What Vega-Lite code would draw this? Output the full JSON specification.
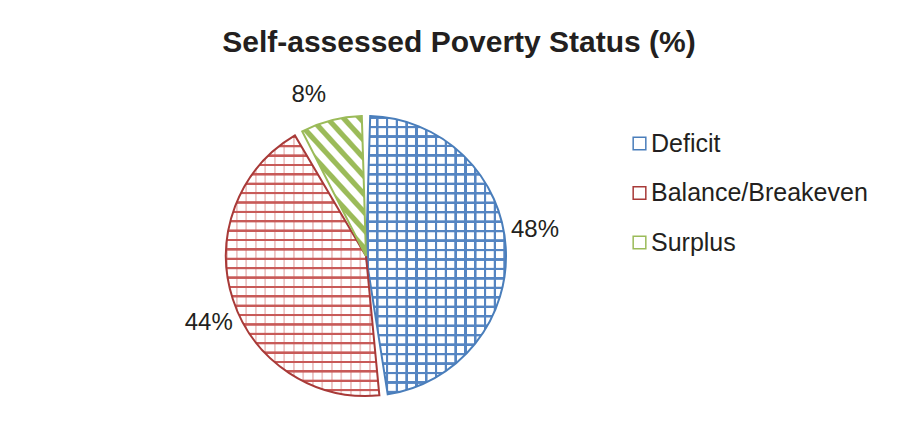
{
  "$schema": "https://vega.github.io/schema/vega-lite/v6.json",
  "width": 732,
  "height": 512,
  "autosize": {"type": "none"},
  "padding": {"left": 0, "top": 0, "right": 168, "bottom": 0},
  "background": "white",
  "title": {
    "text": "Self-assessed Poverty Status (%)",
    "font": "Liberation Sans",
    "fontSize": 30,
    "fontWeight": "bold",
    "color": "#231f20",
    "anchor": "middle",
    "frame": "group",
    "dx": 93,
    "offset": -58
  },
  "data": {
    "values": [
      {"status": "Deficit", "pct": 48, "label": "48%", "order": 1},
      {"status": "Balance/Breakeven", "pct": 44, "label": "44%", "order": 2},
      {"status": "Surplus", "pct": 8, "label": "8%", "order": 3}
    ]
  },
  "encoding": {
    "theta": {"field": "pct", "type": "quantitative", "stack": true},
    "order": {"field": "order", "type": "quantitative"}
  },
  "layer": [
    {
      "mark": {"type": "arc", "radius": 140, "padAngle": 0.06, "strokeWidth": 0},
      "encoding": {
        "fill": {
          "condition": [
            {
              "test": "datum.status === 'Deficit'",
              "value": {
                "gradient": "linear", "x1": 0, "y1": 0, "x2": 0, "y2": 1,
                "stops": [
                  {"offset": 0, "color": "#ffffff"}, {"offset": 0.002, "color": "#5585c2"}, {"offset": 0.009, "color": "#5585c2"}, {"offset": 0.011, "color": "#ffffff"},
                  {"offset": 0.034, "color": "#ffffff"}, {"offset": 0.036, "color": "#5585c2"}, {"offset": 0.043, "color": "#5585c2"}, {"offset": 0.045, "color": "#ffffff"},
                  {"offset": 0.068, "color": "#ffffff"}, {"offset": 0.070, "color": "#5585c2"}, {"offset": 0.077, "color": "#5585c2"}, {"offset": 0.079, "color": "#ffffff"},
                  {"offset": 0.102, "color": "#ffffff"}, {"offset": 0.104, "color": "#5585c2"}, {"offset": 0.111, "color": "#5585c2"}, {"offset": 0.113, "color": "#ffffff"},
                  {"offset": 0.136, "color": "#ffffff"}, {"offset": 0.138, "color": "#5585c2"}, {"offset": 0.145, "color": "#5585c2"}, {"offset": 0.147, "color": "#ffffff"},
                  {"offset": 0.170, "color": "#ffffff"}, {"offset": 0.172, "color": "#5585c2"}, {"offset": 0.179, "color": "#5585c2"}, {"offset": 0.181, "color": "#ffffff"},
                  {"offset": 0.204, "color": "#ffffff"}, {"offset": 0.206, "color": "#5585c2"}, {"offset": 0.213, "color": "#5585c2"}, {"offset": 0.215, "color": "#ffffff"},
                  {"offset": 0.238, "color": "#ffffff"}, {"offset": 0.240, "color": "#5585c2"}, {"offset": 0.247, "color": "#5585c2"}, {"offset": 0.249, "color": "#ffffff"},
                  {"offset": 0.272, "color": "#ffffff"}, {"offset": 0.274, "color": "#5585c2"}, {"offset": 0.281, "color": "#5585c2"}, {"offset": 0.283, "color": "#ffffff"},
                  {"offset": 0.306, "color": "#ffffff"}, {"offset": 0.308, "color": "#5585c2"}, {"offset": 0.315, "color": "#5585c2"}, {"offset": 0.317, "color": "#ffffff"},
                  {"offset": 0.340, "color": "#ffffff"}, {"offset": 0.342, "color": "#5585c2"}, {"offset": 0.349, "color": "#5585c2"}, {"offset": 0.351, "color": "#ffffff"},
                  {"offset": 0.374, "color": "#ffffff"}, {"offset": 0.376, "color": "#5585c2"}, {"offset": 0.383, "color": "#5585c2"}, {"offset": 0.385, "color": "#ffffff"},
                  {"offset": 0.408, "color": "#ffffff"}, {"offset": 0.410, "color": "#5585c2"}, {"offset": 0.417, "color": "#5585c2"}, {"offset": 0.419, "color": "#ffffff"},
                  {"offset": 0.442, "color": "#ffffff"}, {"offset": 0.444, "color": "#5585c2"}, {"offset": 0.451, "color": "#5585c2"}, {"offset": 0.453, "color": "#ffffff"},
                  {"offset": 0.476, "color": "#ffffff"}, {"offset": 0.478, "color": "#5585c2"}, {"offset": 0.485, "color": "#5585c2"}, {"offset": 0.487, "color": "#ffffff"},
                  {"offset": 0.510, "color": "#ffffff"}, {"offset": 0.512, "color": "#5585c2"}, {"offset": 0.519, "color": "#5585c2"}, {"offset": 0.521, "color": "#ffffff"},
                  {"offset": 0.544, "color": "#ffffff"}, {"offset": 0.546, "color": "#5585c2"}, {"offset": 0.553, "color": "#5585c2"}, {"offset": 0.555, "color": "#ffffff"},
                  {"offset": 0.578, "color": "#ffffff"}, {"offset": 0.580, "color": "#5585c2"}, {"offset": 0.587, "color": "#5585c2"}, {"offset": 0.589, "color": "#ffffff"},
                  {"offset": 0.612, "color": "#ffffff"}, {"offset": 0.614, "color": "#5585c2"}, {"offset": 0.621, "color": "#5585c2"}, {"offset": 0.623, "color": "#ffffff"},
                  {"offset": 0.646, "color": "#ffffff"}, {"offset": 0.648, "color": "#5585c2"}, {"offset": 0.655, "color": "#5585c2"}, {"offset": 0.657, "color": "#ffffff"},
                  {"offset": 0.680, "color": "#ffffff"}, {"offset": 0.682, "color": "#5585c2"}, {"offset": 0.689, "color": "#5585c2"}, {"offset": 0.691, "color": "#ffffff"},
                  {"offset": 0.714, "color": "#ffffff"}, {"offset": 0.716, "color": "#5585c2"}, {"offset": 0.723, "color": "#5585c2"}, {"offset": 0.725, "color": "#ffffff"},
                  {"offset": 0.748, "color": "#ffffff"}, {"offset": 0.750, "color": "#5585c2"}, {"offset": 0.757, "color": "#5585c2"}, {"offset": 0.759, "color": "#ffffff"},
                  {"offset": 0.782, "color": "#ffffff"}, {"offset": 0.784, "color": "#5585c2"}, {"offset": 0.791, "color": "#5585c2"}, {"offset": 0.793, "color": "#ffffff"},
                  {"offset": 0.816, "color": "#ffffff"}, {"offset": 0.818, "color": "#5585c2"}, {"offset": 0.825, "color": "#5585c2"}, {"offset": 0.827, "color": "#ffffff"},
                  {"offset": 0.850, "color": "#ffffff"}, {"offset": 0.852, "color": "#5585c2"}, {"offset": 0.859, "color": "#5585c2"}, {"offset": 0.861, "color": "#ffffff"},
                  {"offset": 0.884, "color": "#ffffff"}, {"offset": 0.886, "color": "#5585c2"}, {"offset": 0.893, "color": "#5585c2"}, {"offset": 0.895, "color": "#ffffff"},
                  {"offset": 0.918, "color": "#ffffff"}, {"offset": 0.920, "color": "#5585c2"}, {"offset": 0.927, "color": "#5585c2"}, {"offset": 0.929, "color": "#ffffff"},
                  {"offset": 0.952, "color": "#ffffff"}, {"offset": 0.954, "color": "#5585c2"}, {"offset": 0.961, "color": "#5585c2"}, {"offset": 0.963, "color": "#ffffff"},
                  {"offset": 0.986, "color": "#ffffff"}, {"offset": 0.988, "color": "#5585c2"}, {"offset": 0.995, "color": "#5585c2"}, {"offset": 0.997, "color": "#ffffff"}
                ]
              }
            },
            {
              "test": "datum.status === 'Balance/Breakeven'",
              "value": {
                "gradient": "linear", "x1": 0, "y1": 0, "x2": 0, "y2": 1,
                "stops": [
                  {"offset": 0, "color": "#ffffff"}, {"offset": 0.002, "color": "#c85a58"}, {"offset": 0.009, "color": "#c85a58"}, {"offset": 0.011, "color": "#ffffff"},
                  {"offset": 0.036, "color": "#ffffff"}, {"offset": 0.038, "color": "#c85a58"}, {"offset": 0.045, "color": "#c85a58"}, {"offset": 0.047, "color": "#ffffff"},
                  {"offset": 0.072, "color": "#ffffff"}, {"offset": 0.074, "color": "#c85a58"}, {"offset": 0.081, "color": "#c85a58"}, {"offset": 0.083, "color": "#ffffff"},
                  {"offset": 0.108, "color": "#ffffff"}, {"offset": 0.110, "color": "#c85a58"}, {"offset": 0.117, "color": "#c85a58"}, {"offset": 0.119, "color": "#ffffff"},
                  {"offset": 0.144, "color": "#ffffff"}, {"offset": 0.146, "color": "#c85a58"}, {"offset": 0.153, "color": "#c85a58"}, {"offset": 0.155, "color": "#ffffff"},
                  {"offset": 0.180, "color": "#ffffff"}, {"offset": 0.182, "color": "#c85a58"}, {"offset": 0.189, "color": "#c85a58"}, {"offset": 0.191, "color": "#ffffff"},
                  {"offset": 0.216, "color": "#ffffff"}, {"offset": 0.218, "color": "#c85a58"}, {"offset": 0.225, "color": "#c85a58"}, {"offset": 0.227, "color": "#ffffff"},
                  {"offset": 0.252, "color": "#ffffff"}, {"offset": 0.254, "color": "#c85a58"}, {"offset": 0.261, "color": "#c85a58"}, {"offset": 0.263, "color": "#ffffff"},
                  {"offset": 0.288, "color": "#ffffff"}, {"offset": 0.290, "color": "#c85a58"}, {"offset": 0.297, "color": "#c85a58"}, {"offset": 0.299, "color": "#ffffff"},
                  {"offset": 0.324, "color": "#ffffff"}, {"offset": 0.326, "color": "#c85a58"}, {"offset": 0.333, "color": "#c85a58"}, {"offset": 0.335, "color": "#ffffff"},
                  {"offset": 0.360, "color": "#ffffff"}, {"offset": 0.362, "color": "#c85a58"}, {"offset": 0.369, "color": "#c85a58"}, {"offset": 0.371, "color": "#ffffff"},
                  {"offset": 0.396, "color": "#ffffff"}, {"offset": 0.398, "color": "#c85a58"}, {"offset": 0.405, "color": "#c85a58"}, {"offset": 0.407, "color": "#ffffff"},
                  {"offset": 0.432, "color": "#ffffff"}, {"offset": 0.434, "color": "#c85a58"}, {"offset": 0.441, "color": "#c85a58"}, {"offset": 0.443, "color": "#ffffff"},
                  {"offset": 0.468, "color": "#ffffff"}, {"offset": 0.470, "color": "#c85a58"}, {"offset": 0.477, "color": "#c85a58"}, {"offset": 0.479, "color": "#ffffff"},
                  {"offset": 0.504, "color": "#ffffff"}, {"offset": 0.506, "color": "#c85a58"}, {"offset": 0.513, "color": "#c85a58"}, {"offset": 0.515, "color": "#ffffff"},
                  {"offset": 0.540, "color": "#ffffff"}, {"offset": 0.542, "color": "#c85a58"}, {"offset": 0.549, "color": "#c85a58"}, {"offset": 0.551, "color": "#ffffff"},
                  {"offset": 0.576, "color": "#ffffff"}, {"offset": 0.578, "color": "#c85a58"}, {"offset": 0.585, "color": "#c85a58"}, {"offset": 0.587, "color": "#ffffff"},
                  {"offset": 0.612, "color": "#ffffff"}, {"offset": 0.614, "color": "#c85a58"}, {"offset": 0.621, "color": "#c85a58"}, {"offset": 0.623, "color": "#ffffff"},
                  {"offset": 0.648, "color": "#ffffff"}, {"offset": 0.650, "color": "#c85a58"}, {"offset": 0.657, "color": "#c85a58"}, {"offset": 0.659, "color": "#ffffff"},
                  {"offset": 0.684, "color": "#ffffff"}, {"offset": 0.686, "color": "#c85a58"}, {"offset": 0.693, "color": "#c85a58"}, {"offset": 0.695, "color": "#ffffff"},
                  {"offset": 0.720, "color": "#ffffff"}, {"offset": 0.722, "color": "#c85a58"}, {"offset": 0.729, "color": "#c85a58"}, {"offset": 0.731, "color": "#ffffff"},
                  {"offset": 0.756, "color": "#ffffff"}, {"offset": 0.758, "color": "#c85a58"}, {"offset": 0.765, "color": "#c85a58"}, {"offset": 0.767, "color": "#ffffff"},
                  {"offset": 0.792, "color": "#ffffff"}, {"offset": 0.794, "color": "#c85a58"}, {"offset": 0.801, "color": "#c85a58"}, {"offset": 0.803, "color": "#ffffff"},
                  {"offset": 0.828, "color": "#ffffff"}, {"offset": 0.830, "color": "#c85a58"}, {"offset": 0.837, "color": "#c85a58"}, {"offset": 0.839, "color": "#ffffff"},
                  {"offset": 0.864, "color": "#ffffff"}, {"offset": 0.866, "color": "#c85a58"}, {"offset": 0.873, "color": "#c85a58"}, {"offset": 0.875, "color": "#ffffff"},
                  {"offset": 0.900, "color": "#ffffff"}, {"offset": 0.902, "color": "#c85a58"}, {"offset": 0.909, "color": "#c85a58"}, {"offset": 0.911, "color": "#ffffff"},
                  {"offset": 0.936, "color": "#ffffff"}, {"offset": 0.938, "color": "#c85a58"}, {"offset": 0.945, "color": "#c85a58"}, {"offset": 0.947, "color": "#ffffff"},
                  {"offset": 0.972, "color": "#ffffff"}, {"offset": 0.974, "color": "#c85a58"}, {"offset": 0.981, "color": "#c85a58"}, {"offset": 0.983, "color": "#ffffff"}
                ]
              }
            }
          ],
          "value": {
            "gradient": "linear", "x1": 0, "y1": 1, "x2": 0.6, "y2": -0.2,
            "stops": [
              {"offset": 0, "color": "#ffffff"}, {"offset": 0.008, "color": "#9bbb59"}, {"offset": 0.037, "color": "#9bbb59"}, {"offset": 0.045, "color": "#ffffff"},
              {"offset": 0.085, "color": "#ffffff"}, {"offset": 0.093, "color": "#9bbb59"}, {"offset": 0.122, "color": "#9bbb59"}, {"offset": 0.130, "color": "#ffffff"},
              {"offset": 0.170, "color": "#ffffff"}, {"offset": 0.178, "color": "#9bbb59"}, {"offset": 0.207, "color": "#9bbb59"}, {"offset": 0.215, "color": "#ffffff"},
              {"offset": 0.255, "color": "#ffffff"}, {"offset": 0.263, "color": "#9bbb59"}, {"offset": 0.292, "color": "#9bbb59"}, {"offset": 0.300, "color": "#ffffff"},
              {"offset": 0.340, "color": "#ffffff"}, {"offset": 0.348, "color": "#9bbb59"}, {"offset": 0.377, "color": "#9bbb59"}, {"offset": 0.385, "color": "#ffffff"},
              {"offset": 0.425, "color": "#ffffff"}, {"offset": 0.433, "color": "#9bbb59"}, {"offset": 0.462, "color": "#9bbb59"}, {"offset": 0.470, "color": "#ffffff"},
              {"offset": 0.510, "color": "#ffffff"}, {"offset": 0.518, "color": "#9bbb59"}, {"offset": 0.547, "color": "#9bbb59"}, {"offset": 0.555, "color": "#ffffff"},
              {"offset": 0.595, "color": "#ffffff"}, {"offset": 0.603, "color": "#9bbb59"}, {"offset": 0.632, "color": "#9bbb59"}, {"offset": 0.640, "color": "#ffffff"},
              {"offset": 0.680, "color": "#ffffff"}, {"offset": 0.688, "color": "#9bbb59"}, {"offset": 0.717, "color": "#9bbb59"}, {"offset": 0.725, "color": "#ffffff"},
              {"offset": 0.765, "color": "#ffffff"}, {"offset": 0.773, "color": "#9bbb59"}, {"offset": 0.802, "color": "#9bbb59"}, {"offset": 0.810, "color": "#ffffff"},
              {"offset": 0.850, "color": "#ffffff"}, {"offset": 0.858, "color": "#9bbb59"}, {"offset": 0.887, "color": "#9bbb59"}, {"offset": 0.895, "color": "#ffffff"},
              {"offset": 0.935, "color": "#ffffff"}, {"offset": 0.943, "color": "#9bbb59"}, {"offset": 0.972, "color": "#9bbb59"}, {"offset": 0.980, "color": "#ffffff"}
            ]
          }
        }
      }
    },
    {
      "mark": {"type": "arc", "radius": 140, "padAngle": 0.06, "strokeWidth": 2},
      "encoding": {
        "fill": {
          "condition": [
            {
              "test": "datum.status === 'Deficit'",
              "value": {
                "gradient": "linear", "x1": 0, "y1": 0, "x2": 1, "y2": 0,
                "stops": [
                  {"offset": 0, "color": "rgba(85,133,194,0)"}, {"offset": 0.003, "color": "#5585c2"}, {"offset": 0.018, "color": "#5585c2"}, {"offset": 0.021, "color": "rgba(85,133,194,0)"},
                  {"offset": 0.07, "color": "rgba(85,133,194,0)"}, {"offset": 0.073, "color": "#5585c2"}, {"offset": 0.088, "color": "#5585c2"}, {"offset": 0.091, "color": "rgba(85,133,194,0)"},
                  {"offset": 0.14, "color": "rgba(85,133,194,0)"}, {"offset": 0.143, "color": "#5585c2"}, {"offset": 0.158, "color": "#5585c2"}, {"offset": 0.161, "color": "rgba(85,133,194,0)"},
                  {"offset": 0.21, "color": "rgba(85,133,194,0)"}, {"offset": 0.213, "color": "#5585c2"}, {"offset": 0.228, "color": "#5585c2"}, {"offset": 0.231, "color": "rgba(85,133,194,0)"},
                  {"offset": 0.28, "color": "rgba(85,133,194,0)"}, {"offset": 0.283, "color": "#5585c2"}, {"offset": 0.298, "color": "#5585c2"}, {"offset": 0.301, "color": "rgba(85,133,194,0)"},
                  {"offset": 0.35, "color": "rgba(85,133,194,0)"}, {"offset": 0.353, "color": "#5585c2"}, {"offset": 0.368, "color": "#5585c2"}, {"offset": 0.371, "color": "rgba(85,133,194,0)"},
                  {"offset": 0.42, "color": "rgba(85,133,194,0)"}, {"offset": 0.423, "color": "#5585c2"}, {"offset": 0.438, "color": "#5585c2"}, {"offset": 0.441, "color": "rgba(85,133,194,0)"},
                  {"offset": 0.49, "color": "rgba(85,133,194,0)"}, {"offset": 0.493, "color": "#5585c2"}, {"offset": 0.508, "color": "#5585c2"}, {"offset": 0.511, "color": "rgba(85,133,194,0)"},
                  {"offset": 0.56, "color": "rgba(85,133,194,0)"}, {"offset": 0.563, "color": "#5585c2"}, {"offset": 0.578, "color": "#5585c2"}, {"offset": 0.581, "color": "rgba(85,133,194,0)"},
                  {"offset": 0.63, "color": "rgba(85,133,194,0)"}, {"offset": 0.633, "color": "#5585c2"}, {"offset": 0.648, "color": "#5585c2"}, {"offset": 0.651, "color": "rgba(85,133,194,0)"},
                  {"offset": 0.70, "color": "rgba(85,133,194,0)"}, {"offset": 0.703, "color": "#5585c2"}, {"offset": 0.718, "color": "#5585c2"}, {"offset": 0.721, "color": "rgba(85,133,194,0)"},
                  {"offset": 0.77, "color": "rgba(85,133,194,0)"}, {"offset": 0.773, "color": "#5585c2"}, {"offset": 0.788, "color": "#5585c2"}, {"offset": 0.791, "color": "rgba(85,133,194,0)"},
                  {"offset": 0.84, "color": "rgba(85,133,194,0)"}, {"offset": 0.843, "color": "#5585c2"}, {"offset": 0.858, "color": "#5585c2"}, {"offset": 0.861, "color": "rgba(85,133,194,0)"},
                  {"offset": 0.91, "color": "rgba(85,133,194,0)"}, {"offset": 0.913, "color": "#5585c2"}, {"offset": 0.928, "color": "#5585c2"}, {"offset": 0.931, "color": "rgba(85,133,194,0)"},
                  {"offset": 0.98, "color": "rgba(85,133,194,0)"}, {"offset": 0.983, "color": "#5585c2"}, {"offset": 1, "color": "#5585c2"}
                ]
              }
            },
            {
              "test": "datum.status === 'Balance/Breakeven'",
              "value": {
                "gradient": "linear", "x1": 0, "y1": 0, "x2": 1, "y2": 0,
                "stops": [
                  {"offset": 0, "color": "rgba(200,90,88,0)"}, {"offset": 0.004, "color": "rgba(200,90,88,0.35)"}, {"offset": 0.012, "color": "rgba(200,90,88,0.35)"}, {"offset": 0.016, "color": "rgba(200,90,88,0)"},
                  {"offset": 0.062, "color": "rgba(200,90,88,0)"}, {"offset": 0.066, "color": "rgba(200,90,88,0.35)"}, {"offset": 0.074, "color": "rgba(200,90,88,0.35)"}, {"offset": 0.078, "color": "rgba(200,90,88,0)"},
                  {"offset": 0.124, "color": "rgba(200,90,88,0)"}, {"offset": 0.128, "color": "rgba(200,90,88,0.35)"}, {"offset": 0.136, "color": "rgba(200,90,88,0.35)"}, {"offset": 0.140, "color": "rgba(200,90,88,0)"},
                  {"offset": 0.186, "color": "rgba(200,90,88,0)"}, {"offset": 0.190, "color": "rgba(200,90,88,0.35)"}, {"offset": 0.198, "color": "rgba(200,90,88,0.35)"}, {"offset": 0.202, "color": "rgba(200,90,88,0)"},
                  {"offset": 0.248, "color": "rgba(200,90,88,0)"}, {"offset": 0.252, "color": "rgba(200,90,88,0.35)"}, {"offset": 0.260, "color": "rgba(200,90,88,0.35)"}, {"offset": 0.264, "color": "rgba(200,90,88,0)"},
                  {"offset": 0.310, "color": "rgba(200,90,88,0)"}, {"offset": 0.314, "color": "rgba(200,90,88,0.35)"}, {"offset": 0.322, "color": "rgba(200,90,88,0.35)"}, {"offset": 0.326, "color": "rgba(200,90,88,0)"},
                  {"offset": 0.372, "color": "rgba(200,90,88,0)"}, {"offset": 0.376, "color": "rgba(200,90,88,0.35)"}, {"offset": 0.384, "color": "rgba(200,90,88,0.35)"}, {"offset": 0.388, "color": "rgba(200,90,88,0)"},
                  {"offset": 0.434, "color": "rgba(200,90,88,0)"}, {"offset": 0.438, "color": "rgba(200,90,88,0.35)"}, {"offset": 0.446, "color": "rgba(200,90,88,0.35)"}, {"offset": 0.450, "color": "rgba(200,90,88,0)"},
                  {"offset": 0.496, "color": "rgba(200,90,88,0)"}, {"offset": 0.500, "color": "rgba(200,90,88,0.35)"}, {"offset": 0.508, "color": "rgba(200,90,88,0.35)"}, {"offset": 0.512, "color": "rgba(200,90,88,0)"},
                  {"offset": 0.558, "color": "rgba(200,90,88,0)"}, {"offset": 0.562, "color": "rgba(200,90,88,0.35)"}, {"offset": 0.570, "color": "rgba(200,90,88,0.35)"}, {"offset": 0.574, "color": "rgba(200,90,88,0)"},
                  {"offset": 0.620, "color": "rgba(200,90,88,0)"}, {"offset": 0.624, "color": "rgba(200,90,88,0.35)"}, {"offset": 0.632, "color": "rgba(200,90,88,0.35)"}, {"offset": 0.636, "color": "rgba(200,90,88,0)"},
                  {"offset": 0.682, "color": "rgba(200,90,88,0)"}, {"offset": 0.686, "color": "rgba(200,90,88,0.35)"}, {"offset": 0.694, "color": "rgba(200,90,88,0.35)"}, {"offset": 0.698, "color": "rgba(200,90,88,0)"},
                  {"offset": 0.744, "color": "rgba(200,90,88,0)"}, {"offset": 0.748, "color": "rgba(200,90,88,0.35)"}, {"offset": 0.756, "color": "rgba(200,90,88,0.35)"}, {"offset": 0.760, "color": "rgba(200,90,88,0)"},
                  {"offset": 0.806, "color": "rgba(200,90,88,0)"}, {"offset": 0.810, "color": "rgba(200,90,88,0.35)"}, {"offset": 0.818, "color": "rgba(200,90,88,0.35)"}, {"offset": 0.822, "color": "rgba(200,90,88,0)"},
                  {"offset": 0.868, "color": "rgba(200,90,88,0)"}, {"offset": 0.872, "color": "rgba(200,90,88,0.35)"}, {"offset": 0.880, "color": "rgba(200,90,88,0.35)"}, {"offset": 0.884, "color": "rgba(200,90,88,0)"},
                  {"offset": 0.930, "color": "rgba(200,90,88,0)"}, {"offset": 0.934, "color": "rgba(200,90,88,0.35)"}, {"offset": 0.942, "color": "rgba(200,90,88,0.35)"}, {"offset": 0.946, "color": "rgba(200,90,88,0)"},
                  {"offset": 1, "color": "rgba(200,90,88,0)"}
                ]
              }
            }
          ],
          "value": "transparent"
        },
        "stroke": {
          "field": "status",
          "type": "nominal",
          "scale": {
            "domain": ["Deficit", "Balance/Breakeven", "Surplus"],
            "range": ["#4a7ebb", "#a83a38", "#9bbb59"]
          },
          "legend": {
            "orient": "none",
            "legendX": 627,
            "legendY": 131,
            "title": null,
            "labelFont": "Liberation Sans",
            "labelFontSize": 25,
            "labelColor": "#231f20",
            "labelLimit": 400,
            "symbolType": "square",
            "symbolSize": 160,
            "symbolStrokeWidth": 1.5,
            "rowPadding": 23.5,
            "labelOffset": -1,
            "padding": 0
          }
        }
      }
    },
    {
      "mark": {"type": "text", "radius": 171, "thetaOffset": -0.09, "font": "Liberation Sans", "fontSize": 24, "color": "#231f20"},
      "encoding": {"text": {"field": "label", "type": "nominal"}}
    }
  ],
  "config": {"view": {"stroke": null}}
}
